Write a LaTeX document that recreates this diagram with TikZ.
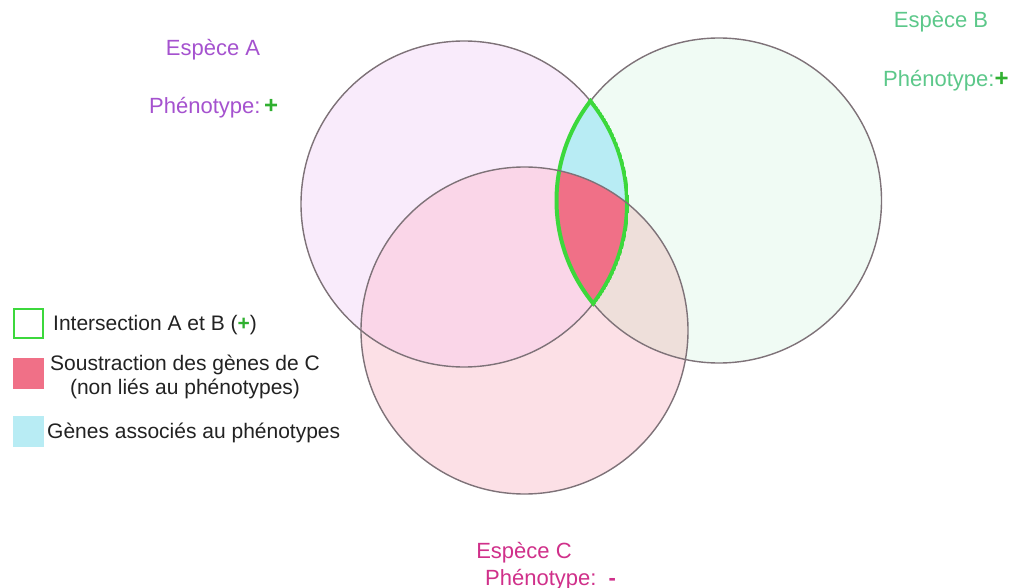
\documentclass[tikz,border=0pt]{standalone}
\usepackage{fontspec}
\setmainfont{Liberation Sans}
\definecolor{colA}{HTML}{F9EBFB}
\definecolor{colB}{HTML}{F0FBF4}
\definecolor{colC}{HTML}{FCE0E6}
\definecolor{colAC}{HTML}{FAD6E8}
\definecolor{colBC}{HTML}{EEDFDA}
\definecolor{colCyan}{HTML}{B8ECF4}
\definecolor{colRed}{HTML}{F07087}
\definecolor{colLine}{HTML}{7E7278}
\definecolor{colGreen}{HTML}{3CD83C}
\definecolor{colPlus}{HTML}{30B030}
\definecolor{txtA}{HTML}{A552CF}
\definecolor{txtB}{HTML}{5CC88A}
\definecolor{txtC}{HTML}{D0308A}
\definecolor{txtL}{HTML}{222222}
\begin{document}
\begin{tikzpicture}[x=1pt,y=-1pt,
  title/.style={font=\fontsize{22}{26}\selectfont, inner sep=0pt},
  legend/.style={font=\fontsize{21}{25}\selectfont, inner sep=0pt, text=txtL},
  circ/.style={draw=colLine, line width=1.4pt}]
\useasboundingbox (0,0) rectangle (1023,588);
\fill[white] (0,0) rectangle (1023,588);
% circle geometry
\coordinate (cA) at (464,204);
\coordinate (cB) at (719,200.5);
\coordinate (cC) at (524.5,330.5);
\def\rA{163}\def\rB{162.5}\def\rC{163.5}
% fills
\fill[colA] (cA) circle (\rA);
\fill[colB] (cB) circle (\rB);
\fill[colC] (cC) circle (\rC);
\begin{scope}
  \clip (cA) circle (\rA);
  \fill[colAC] (cC) circle (\rC);
\end{scope}
\begin{scope}
  \clip (cB) circle (\rB);
  \fill[colBC] (cC) circle (\rC);
\end{scope}
\begin{scope}
  \clip (cA) circle (\rA);
  \clip (cB) circle (\rB);
  \fill[colCyan] (cA) circle (\rA);
  \fill[colRed] (cC) circle (\rC);
\end{scope}
% outlines
\draw[circ] (cA) circle (\rA);
\draw[circ] (cB) circle (\rB);
% green lens
\begin{scope}
  \clip (cA) circle (\rA+2);
  \clip (cB) circle (\rB+2);
  \draw[colGreen, line width=4pt] (cA) circle (\rA);
  \draw[colGreen, line width=4pt] (cB) circle (\rB);
\end{scope}
\draw[circ] (cC) circle (\rC);
% titles
\node[title, text=txtA, anchor=base] (tA) at (213,56) {Espèce A};
\node[title, text=txtA, anchor=base west] (pA) at (149,114) {Phénotype:\,\textcolor{colPlus}{\bfseries\fontsize{24}{26}\selectfont +}};
\node[title, text=txtB, anchor=base] (tB) at (941,28) {Espèce B};
\node[title, text=txtB, anchor=base west] (pB) at (883,87) {Phénotype:\textcolor{colPlus}{\bfseries\fontsize{24}{26}\selectfont +}};
\node[title, text=txtC, anchor=base] (tC) at (524,558) {Espèce C};
\node[title, text=txtC, anchor=base west] (pC) at (485,585) {Phénotype:\ \ {\bfseries -}};
% legend
\node[draw=colGreen, line width=2pt, minimum size=29pt, inner sep=0pt] (kG) at (28.5,323) {};
\node[fill=colRed, minimum size=31pt, inner sep=0pt] (kR) at (28.5,373.5) {};
\node[fill=colCyan, minimum size=31pt, inner sep=0pt] (kC) at (28,431.5) {};
\node[legend, anchor=base west] (lG) at (53,330) {Intersection A et B (\textcolor{colPlus}{\bfseries +})};
\node[legend, anchor=base] (lR1) at (185,370) {Soustraction des gènes de C};
\node[legend, anchor=base] (lR2) at (185,394) {(non liés au phénotypes)};
\node[legend, anchor=base west] (lC) at (47,438) {Gènes associés au phénotypes};
\end{tikzpicture}
\end{document}
